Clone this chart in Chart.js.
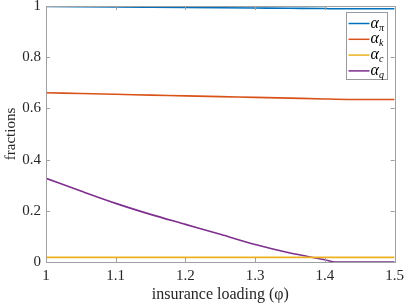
<!DOCTYPE html>
<html>
<head>
<meta charset="utf-8">
<script src="https://cdn.jsdelivr.net/npm/chart.js@4/dist/chart.umd.min.js"></script>
<style>
  html, body { margin: 0; padding: 0; background: #fff; }
  #wrap { width: 409px; height: 305px; }
</style>
</head>
<body>
<div id="wrap"><canvas id="chart1" width="409" height="305"></canvas></div>
<script>
// insurance loading values (x)
var loading = [1, 1.05, 1.1, 1.15, 1.2, 1.25, 1.3, 1.35, 1.4, 1.415, 1.45, 1.5];
// fractions
var alphaPi = [0.998, 0.997, 0.996, 0.995, 0.994, 0.993, 0.992, 0.991, 0.990, 0.989, 0.989, 0.989];
var alphaK  = [0.661, 0.658, 0.655, 0.652, 0.649, 0.646, 0.643, 0.640, 0.637, 0.636, 0.635, 0.635];
var alphaC  = [0.018, 0.018, 0.018, 0.018, 0.018, 0.018, 0.018, 0.018, 0.018, 0.018, 0.018, 0.018];
var alphaQ  = [0.327, 0.277, 0.229, 0.186, 0.147, 0.108, 0.068, 0.035, 0.009, 0, 0, 0];
var subs = ["π", "k", "c", "q"];
var colores = ["#0072BD", "#D95319", "#EDB120", "#7E2F8E"];

var serif = "'Liberation Serif', 'DejaVu Serif', serif";
var ejeColor = "#a0a0a0";

function puntos(ys){
    var out = [];
    for (var i = 0; i < loading.length; i++) out.push({x: loading[i], y: ys[i]});
    return out;
}

// inward ticks on all four sides + box
var marcoPlugin = {
    id: "marco",
    afterDraw: function(chart){
        var ctx = chart.ctx, a = chart.chartArea;
        var xs = chart.scales.x, ys = chart.scales.y;
        ctx.save();
        ctx.strokeStyle = ejeColor;
        ctx.lineWidth = 1;
        ctx.beginPath();
        xs.ticks.forEach(function(t){
            var px = Math.round(xs.getPixelForValue(t.value)) + 0.5;
            ctx.moveTo(px, a.bottom); ctx.lineTo(px, a.bottom - 4);
            ctx.moveTo(px, a.top); ctx.lineTo(px, a.top + 4);
        });
        ys.ticks.forEach(function(t){
            var py = Math.round(ys.getPixelForValue(t.value)) + 0.5;
            ctx.moveTo(a.left, py); ctx.lineTo(a.left + 4, py);
            ctx.moveTo(a.right, py); ctx.lineTo(a.right - 4, py);
        });
        ctx.stroke();
        ctx.strokeRect(Math.round(a.left) + 0.5, Math.round(a.top) + 0.5,
                       Math.round(a.right - a.left), Math.round(a.bottom - a.top));
        ctx.restore();
    }
};

// legend with alpha + subscript
var leyendaPlugin = {
    id: "leyenda",
    afterDraw: function(chart){
        var ctx = chart.ctx, a = chart.chartArea;
        var w = 41, h = 67;
        var x0 = Math.round(a.right - 8 - w) + 0.5, y0 = Math.round(a.top + 6) + 0.5;
        ctx.save();
        ctx.fillStyle = "#fff";
        ctx.fillRect(x0, y0, w, h);
        ctx.strokeStyle = "#999";
        ctx.lineWidth = 1;
        ctx.strokeRect(x0, y0, w, h);
        for (var i = 0; i < chart.data.datasets.length; i++){
            var cy = y0 + 11 + i * 15.8;
            ctx.strokeStyle = chart.data.datasets[i].borderColor;
            ctx.lineWidth = 1.5;
            ctx.beginPath();
            ctx.moveTo(x0 + 2, cy); ctx.lineTo(x0 + 23, cy);
            ctx.stroke();
            ctx.fillStyle = "#000";
            ctx.textBaseline = "alphabetic";
            ctx.font = "italic 16px " + serif;
            ctx.fillText("α", x0 + 24, cy + 4);
            ctx.font = "italic 10px " + serif;
            ctx.fillText(subs[i], x0 + 32.5, cy + 7);
        }
        ctx.restore();
    }
};

function Mostrar_Grafico(){
    var sets = [alphaPi, alphaK, alphaC, alphaQ];
    var ds = [];
    for (var i = 0; i < sets.length; i++){
        ds.push({
            label: "α" + subs[i],
            data: puntos(sets[i]),
            borderColor: colores[i],
            backgroundColor: colores[i],
            borderWidth: 1.6,
            pointRadius: 0,
            cubicInterpolationMode: "monotone"
        });
    }
    var config = {
        type: "line",
        data: { datasets: ds },
        options: {
            responsive: false,
            animation: false,
            layout: { padding: { left: 2, right: 12, top: 6, bottom: 1 } },
            plugins: { legend: { display: false }, tooltip: { enabled: false } },
            scales: {
                x: {
                    type: "linear", min: 1, max: 1.5,
                    grid: { display: false, drawTicks: false },
                    border: { display: false },
                    ticks: { stepSize: 0.1, color: "#262626", padding: 5,
                             font: { family: serif, size: 15 },
                             callback: function(v){ return +v.toFixed(1); } },
                    title: { display: true, text: "insurance loading (φ)", color: "#262626",
                             font: { family: serif, size: 16 }, padding: { top: 0, bottom: 0 } },
                    afterFit: function(s){ s.height = 42; }
                },
                y: {
                    min: 0, max: 1,
                    grid: { display: false, drawTicks: false },
                    border: { display: false },
                    ticks: { stepSize: 0.2, color: "#262626", padding: 5,
                             font: { family: serif, size: 15 },
                             callback: function(v){ return +v.toFixed(1); } },
                    title: { display: true, text: "fractions", color: "#262626",
                             font: { family: serif, size: 15 }, padding: { top: 0, bottom: 2 } },
                    afterFit: function(s){ s.width = 44; s.paddingTop = 0; s.paddingBottom = 0; }
                }
            }
        },
        plugins: [marcoPlugin, leyendaPlugin]
    };
    var canvas = document.getElementById("chart1").getContext("2d");
    window.grafico = new Chart(canvas, config);
}
Mostrar_Grafico();
</script>
</body>
</html>
